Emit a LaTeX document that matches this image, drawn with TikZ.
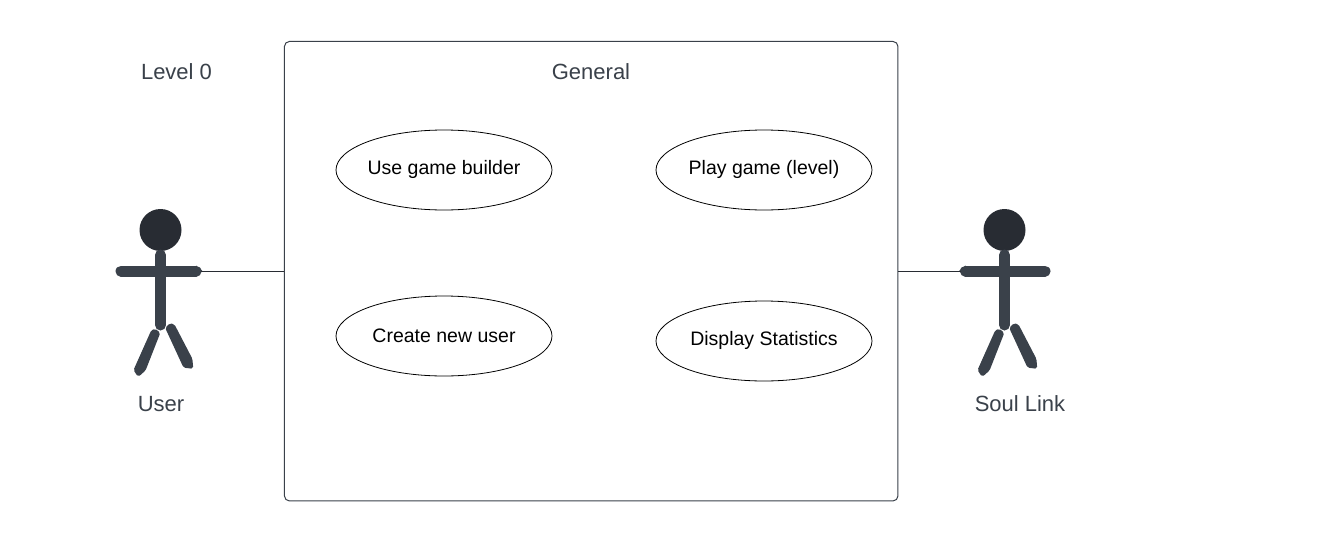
\documentclass[tikz,border=0pt]{standalone}
\usepackage{fontspec}
\setmainfont{Liberation Sans}
\usetikzlibrary{shapes.geometric}
\definecolor{ink}{HTML}{3A414A}
\definecolor{headc}{HTML}{282C33}
\definecolor{txt}{HTML}{3A414A}
\tikzset{
  x=1pt,y=-1pt,
  usecase/.style={draw=black,line width=0.8pt,ellipse,minimum width=216pt,minimum height=80pt,inner sep=0pt},
  uctext/.style={inner sep=0pt,font=\fontsize{19.5}{23}\selectfont,text=black},
  label/.style={inner sep=0pt,font=\fontsize{22}{26}\selectfont,text=txt},
  limb/.style={draw=ink,line width=11pt,line cap=round},
  solid limb/.style={fill=ink,draw=ink,line width=1.4pt,rounded corners=1.5pt},
  head/.style={circle,fill=headc,draw=none,minimum size=42pt,inner sep=0pt},
  frame/.style={draw=ink,line width=1pt,rounded corners=5pt,minimum width=613.5pt,minimum height=459.5pt,inner sep=0pt},
  link/.style={draw=headc,line width=1pt}
}
\begin{document}
\begin{tikzpicture}
\useasboundingbox (0,0) rectangle (1319,541);
\fill[white] (0,0) rectangle (1319,541);
\node[frame] (sys) at (591.2,271.2) {};
\node[label] (general) at (591,72) {General};
\node[label] (level) at (176.5,72) {Level 0};
\node[usecase] (uc1) at (444,170) {};
\node[usecase] (uc2) at (764,170) {};
\node[usecase] (uc3) at (444,336) {};
\node[usecase] (uc4) at (764,341) {};
\node[uctext] (t1) at (444,169.3) {Use game builder};
\node[uctext] (t2) at (764,169.3) {Play game (level)};
\node[uctext] (t3) at (444,335.3) {Create new user};
\node[uctext] (t4) at (764,340.3) {Display Statistics};
% left actor
\node[head] (headL) at (160.5,230) {};
\draw[limb] (160.5,255) -- (160.5,325);
\draw[limb] (121,271) -- (196,271);
\fill[ink] (196,265.5) -- (202.5,271) -- (196,276.5) -- cycle;
\path[solid limb] (151.7,331) -- (155,329.5) -- (159.5,333) -- (145,370) -- (138.3,376) -- (134.3,370) -- cycle;
\path[solid limb] (166,328) -- (170,324) -- (174,325) -- (191.7,359) -- (192.5,368) -- (184,367) -- cycle;
\coordinate (handL) at (201,271);
\node[label] (userL) at (161,404) {User};
% right actor
\node[head] (headR) at (1004.5,230) {};
\draw[limb] (1004.5,255) -- (1004.5,325);
\draw[limb] (965.5,271) -- (1045,271);
\fill[ink] (965.5,265.5) -- (959,271) -- (965.5,276.5) -- cycle;
\path[solid limb] (995.7,331) -- (999,329.5) -- (1003.5,333) -- (989,370) -- (982.3,376) -- (978.3,370) -- cycle;
\path[solid limb] (1010,328) -- (1014,324) -- (1018,325) -- (1035.7,359) -- (1036.5,368) -- (1028,367) -- cycle;
\coordinate (handR) at (961,271);
\node[label] (userR) at (1020,404) {Soul Link};
\draw[link] (handL) -- (sys.west |- handL);
\draw[link] (sys.east |- handR) -- (handR);
\end{tikzpicture}
\end{document}
